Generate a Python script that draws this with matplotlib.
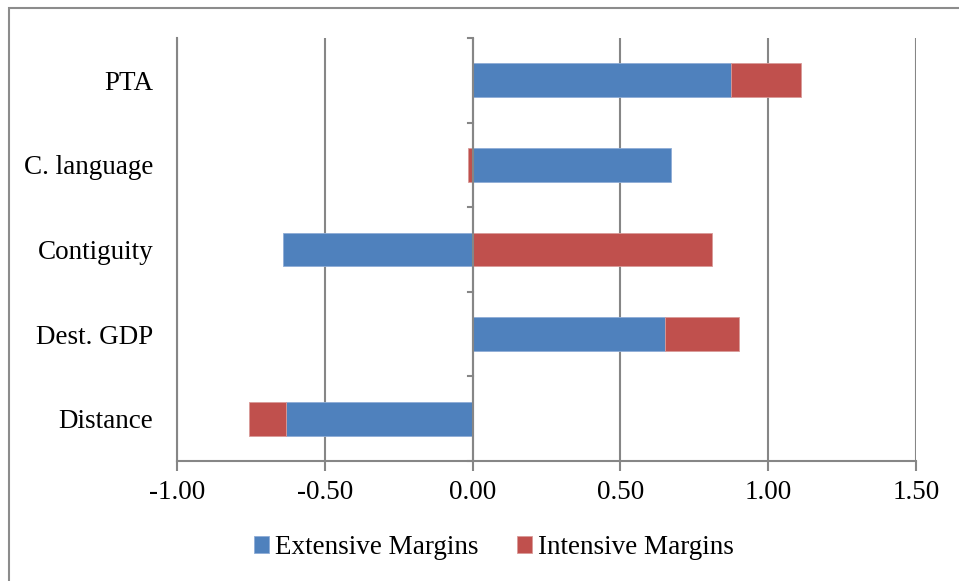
import matplotlib.pyplot as plt
import numpy as np
from matplotlib.patches import Rectangle

categories = ["Distance", "Dest. GDP", "Contiguity", "C. language", "PTA"]
extensive = [-0.63, 0.65, -0.64, 0.67, 0.875]
intensive = [-0.126, 0.25, 0.81, -0.015, 0.237]
xticks = [-1.0, -0.5, 0.0, 0.5, 1.0, 1.5]

blue = "#4F81BD"
red = "#C0504D"
grey = "#868686"
fs = 19.5

plt.rcParams['font.family'] = ['Liberation Serif', 'DejaVu Serif']

fig = plt.figure(figsize=(9.59, 5.81), dpi=100)
ax = fig.add_axes([177 / 959, 1 - 461 / 581, (916 - 177) / 959, (461 - 38) / 581])

y = np.arange(len(categories))
ext = np.array(extensive)
inten = np.array(intensive)
# excel-style stacking: positives and negatives pile up separately
left_int = np.where(np.sign(inten) == np.sign(ext), ext, 0)

ax.barh(y, ext, height=0.4, color=blue, edgecolor="#8FADD6", linewidth=0.6,
        label="Extensive Margins", zorder=3)
ax.barh(y, inten, left=left_int, height=0.4, color=red, edgecolor="#D99A98",
        linewidth=0.6, label="Intensive Margins", zorder=3)

ax.set_xlim(-1.0, 1.5)
ax.set_ylim(-0.5, len(categories) - 0.5)
ax.set_xticks(xticks)
ax.set_xticklabels([f"{v:.2f}" for v in xticks], fontsize=fs)
ax.set_yticks(y)
ax.set_yticklabels(categories, fontsize=fs)
ax.tick_params(axis="y", length=0, pad=17)
ax.tick_params(axis="x", length=7, width=1.5, color=grey, pad=7)

ax.grid(axis="x", color=grey, linewidth=1.5, zorder=0)
for s in ["top", "right"]:
    ax.spines[s].set_visible(False)
for s in ["bottom", "left"]:
    ax.spines[s].set_color(grey)
    ax.spines[s].set_linewidth(1.5)

# category axis drawn at zero with small ticks between categories
ax.axvline(0, color=grey, linewidth=1.5, zorder=4)
for b in np.arange(-0.5, len(categories), 1.0):
    ax.plot([-0.016, 0], [b, b], color=grey, linewidth=1.5, zorder=4,
            clip_on=False)

ax.legend(loc="center", bbox_to_anchor=(0.429, -0.205), ncol=2, frameon=False,
          fontsize=fs, handlelength=0.55, handleheight=0.55, handletextpad=0.2,
          columnspacing=1.45)

fig.patches.append(Rectangle((9 / 959, -0.1), 1.2, 1 - 8 / 581 + 0.1,
                             transform=fig.transFigure, fill=False,
                             edgecolor="#8C8C8C", linewidth=1.5))

fig.savefig("out.png", dpi=100)
